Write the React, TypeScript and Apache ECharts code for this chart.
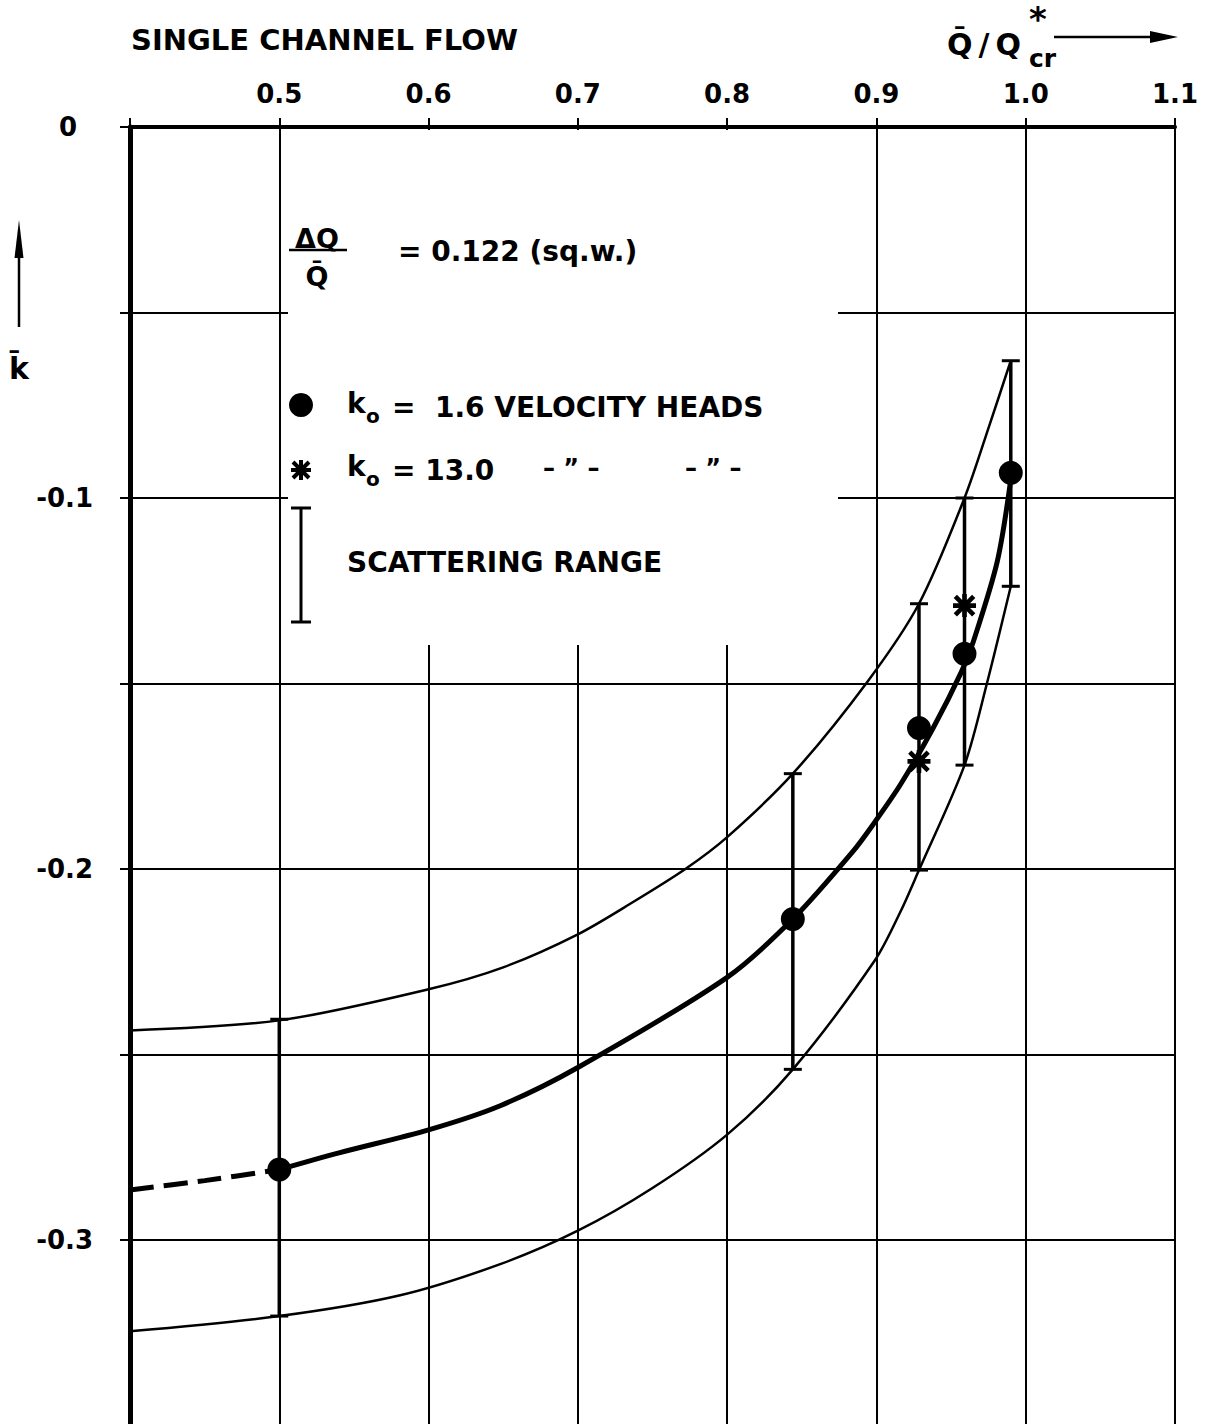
import React, { useEffect, useRef } from "react";
import * as echarts from "echarts";

const FONT = '"DejaVu Sans", "Liberation Sans", sans-serif';

// mean curve k̄ (thick), dashed where it is extrapolated
const meanDashed: number[][] = [[0.40, -0.2865], [0.45, -0.2840], [0.50, -0.2810]];
const meanSolid: number[][] = [
  [0.50, -0.2810], [0.54, -0.2765], [0.60, -0.2703], [0.648, -0.2638], [0.70, -0.2535],
  [0.80, -0.2292], [0.844, -0.2135], [0.884, -0.1954], [0.899, -0.1873],
  [0.916, -0.1773], [0.938, -0.1620], [0.957, -0.1468], [0.965, -0.1386], [0.981, -0.1170],
  [0.990, -0.0950],
];
// envelope of the scattering range
const upperBound: number[][] = [
  [0.40, -0.2435], [0.50, -0.2408], [0.60, -0.2324], [0.65, -0.2265], [0.70, -0.2176],
  [0.737, -0.2089], [0.772, -0.2000], [0.80, -0.1914], [0.844, -0.1743], [0.894, -0.1495],
  [0.9285, -0.1285], [0.959, -0.1000], [0.976, -0.0800], [0.990, -0.0630],
];
const lowerBound: number[][] = [
  [0.40, -0.3246], [0.50, -0.3205], [0.581, -0.3149], [0.648, -0.3065], [0.70, -0.2975],
  [0.75, -0.2860], [0.80, -0.2716], [0.844, -0.2540], [0.899, -0.2246], [0.916, -0.2116],
  [0.9285, -0.2003], [0.959, -0.1720], [0.974, -0.1500], [0.990, -0.1238],
];
// measured points
const ko16Points: number[][] = [[0.5, -0.281], [0.844, -0.2135], [0.9285, -0.162], [0.959, -0.142], [0.99, -0.0932]];
const ko130Points: number[][] = [[0.9285, -0.171], [0.959, -0.129]];
// scattering range: [x, low, high]
const scatterRanges: number[][] = [
  [0.5, -0.3205, -0.2405], [0.844, -0.254, -0.1743], [0.9285, -0.2003, -0.1285],
  [0.959, -0.172, -0.100], [0.99, -0.1238, -0.0630],
];
const xTicks = { min: 0.4, max: 1.1, step: 0.1 };
const yTicks = { min: -0.4, max: 0, step: 0.05 };

const STAR_D =
  "M8 0h4v20h-4z M0 8h20v4h-20z M0.59 3.41L3.41 0.59L19.41 16.59L16.59 19.41Z M16.59 0.59L19.41 3.41L3.41 19.41L0.59 16.59Z";
echarts.graphic.registerShape("asterisk", echarts.graphic.extendPath(STAR_D, {}) as any);

const txt = (x: number, y: number, text: string, size: number, extra: any = {}) => ({
  type: "text",
  x,
  y,
  z: 10,
  style: {
    text,
    fill: "#000",
    fontFamily: FONT,
    fontWeight: "bold",
    fontSize: size,
    verticalAlign: "middle",
    align: "left",
    ...extra,
  },
});

const line = (x1: number, y1: number, x2: number, y2: number, w: number) => ({
  type: "line",
  z: 10,
  shape: { x1, y1, x2, y2 },
  style: { stroke: "#000", lineWidth: w },
});

export default function App() {
  const ref = useRef<HTMLDivElement>(null);

  useEffect(() => {
    if (!ref.current) return;
    const chart = echarts.init(ref.current, null, { renderer: "svg" });

    const curve = (name: string, data: number[][], width: number, dash?: number[]) => ({
      type: "line",
      name,
      z: 4,
      data,
      showSymbol: false,
      symbol: "none",
      smooth: 0.3,
      lineStyle: { color: "#000", width, type: dash || "solid" },
    });

    const option: any = {
      animation: false,
      backgroundColor: "#fff",
      grid: {
        left: 130,
        top: 127,
        width: 1045,
        height: 1484,
        containLabel: false,
        outerBoundsMode: "none",
      },
      xAxis: {
        type: "value",
        position: "top",
        min: xTicks.min,
        max: xTicks.max,
        interval: xTicks.step,
        axisLine: { show: true, onZero: false, lineStyle: { color: "#000", width: 4 } },
        axisTick: { show: true, inside: false, length: 9, lineStyle: { color: "#000", width: 2 } },
        splitLine: { show: true, lineStyle: { color: "#000", width: 2 } },
        axisLabel: {
          margin: 20,
          color: "#000",
          fontFamily: FONT,
          fontWeight: "bold",
          fontSize: 26,
          formatter: (v: number) => (Math.abs(v - 0.4) < 1e-6 ? "" : v.toFixed(1)),
        },
      },
      yAxis: {
        type: "value",
        min: yTicks.min,
        max: yTicks.max,
        interval: yTicks.step,
        axisLine: { show: true, onZero: false, lineStyle: { color: "#000", width: 5 } },
        axisTick: { show: true, inside: false, length: 10, lineStyle: { color: "#000", width: 2 } },
        splitLine: { show: true, lineStyle: { color: "#000", width: 2 } },
        axisLabel: {
          margin: 37,
          align: "right",
          color: "#000",
          fontFamily: FONT,
          fontWeight: "bold",
          fontSize: 26,
          formatter: (v: number) => {
            const t = Math.round(v * 100);
            if (t % 10 !== 0 || t <= -40) return "";
            if (t === 0) return "{z|0}";
            return v.toFixed(1);
          },
          rich: {
            z: { fontFamily: FONT, fontWeight: "bold", fontSize: 26, color: "#000", padding: [0, 16, 0, 0] },
          },
        },
      },
      graphic: [
        // white panel holding the key
        { type: "rect", z: 1, shape: { x: 288, y: 130, width: 550, height: 515 }, style: { fill: "#fff" } },
        // titles
        txt(131, 40, "SINGLE CHANNEL FLOW", 29),
        txt(947, 44, "Q\u0304\u2009/\u2009Q", 30),
        txt(1029, 19, "*", 34),
        txt(1029, 58, "cr", 25),
        line(1054, 37, 1160, 37, 2.5),
        { type: "polygon", z: 10, shape: { points: [[1150, 31], [1178, 37], [1150, 43]] }, style: { fill: "#000" } },
        // y quantity with arrow
        line(19, 327, 19, 250, 2.5),
        { type: "polygon", z: 10, shape: { points: [[14.5, 258], [19, 220], [23.5, 258]] }, style: { fill: "#000" } },
        txt(19, 368, "k\u0304", 30, { align: "center" }),
        // ΔQ / Q̄ = 0.122
        txt(317, 238, "\u0394Q", 27, { align: "center" }),
        line(289, 250, 347, 250, 2.5),
        txt(317, 276, "Q\u0304", 27, { align: "center" }),
        txt(398, 251, "= 0.122 (sq.w.)", 28),
        // key: k_o = 1.6
        { type: "circle", z: 10, shape: { cx: 301, cy: 405, r: 12 }, style: { fill: "#000" } },
        txt(347, 403, "k", 28),
        txt(366, 416, "o", 20),
        txt(392, 407, "=  1.6 VELOCITY HEADS", 28),
        // key: k_o = 13.0
        { type: "asterisk", z: 10, x: 291, y: 460, scaleX: 1, scaleY: 1, style: { fill: "#000" } },
        txt(347, 466, "k", 28),
        txt(366, 479, "o", 20),
        txt(392, 470, "= 13.0", 28),
        txt(543, 468, "\u2013 \u201D \u2013", 24),
        txt(685, 468, "\u2013 \u201D \u2013", 24),
        // key: scattering range
        line(301, 508, 301, 622, 3),
        line(291, 508, 311, 508, 3),
        line(291, 622, 311, 622, 3),
        txt(347, 562, "SCATTERING RANGE", 28),
      ],
      series: [
        {
          type: "custom",
          name: "scattering range",
          z: 3,
          encode: { x: 0, y: [1, 2] },
          data: scatterRanges,
          renderItem: (params: any, api: any) => {
            const x = api.value(0);
            const lo = api.coord([x, api.value(1)]);
            const hi = api.coord([x, api.value(2)]);
            const cap = 9;
            return {
              type: "group",
              children: [
                { type: "line", shape: { x1: hi[0], y1: hi[1], x2: lo[0], y2: lo[1] }, style: { stroke: "#000", lineWidth: 3.5 } },
                { type: "line", shape: { x1: hi[0] - cap, y1: hi[1], x2: hi[0] + cap, y2: hi[1] }, style: { stroke: "#000", lineWidth: 3 } },
                { type: "line", shape: { x1: lo[0] - cap, y1: lo[1], x2: lo[0] + cap, y2: lo[1] }, style: { stroke: "#000", lineWidth: 3 } },
              ],
            };
          },
        },
        curve("upper", upperBound, 2.5),
        curve("lower", lowerBound, 2.5),
        curve("mean", meanSolid, 5),
        curve("mean extrapolated", meanDashed, 5, [24, 10]),
        {
          type: "scatter",
          name: "k_o = 1.6",
          z: 6,
          data: ko16Points,
          symbol: "circle",
          symbolSize: 24,
          itemStyle: { color: "#000", opacity: 1 },
        },
        {
          type: "scatter",
          name: "k_o = 13.0",
          z: 6,
          data: ko130Points,
          symbol: "path://" + STAR_D,
          symbolSize: 23,
          itemStyle: { color: "#000", opacity: 1 },
        },
      ],
    };

    chart.setOption(option);
    return () => chart.dispose();
  }, []);

  return (
    <div
      ref={ref}
      style={{ position: "fixed", left: 0, top: 0, width: 1205, height: 1424, background: "#fff" }}
    />
  );
}
